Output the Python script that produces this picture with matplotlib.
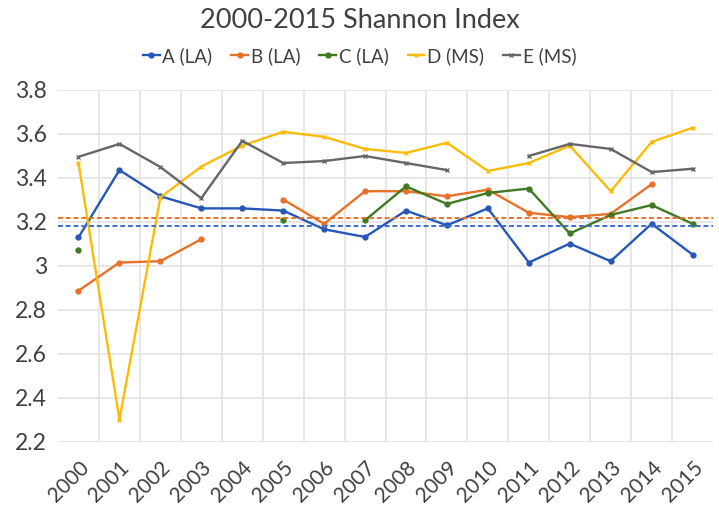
import numpy as np
import matplotlib
matplotlib.use("Agg")
import matplotlib.pyplot as plt

plt.rcParams['font.family'] = ['Lato', 'DejaVu Sans']

years = [str(y) for y in range(2000, 2016)]
nan = np.nan

# Shannon index per series (gaps where no data)
a_la = [3.128, 3.434, 3.315, 3.26, 3.26, 3.25, 3.165, 3.13, 3.25, 3.183, 3.26, 3.014, 3.10, 3.02, 3.19, 3.05]
b_la = [2.886, 3.014, 3.02, 3.12, nan, 3.30, 3.19, 3.338, 3.338, 3.315, 3.345, 3.24, 3.22, 3.235, 3.37, nan]
c_la = [3.073, nan, nan, nan, nan, 3.206, nan, 3.206, 3.36, 3.28, 3.33, 3.35, 3.146, 3.23, 3.275, 3.19]
d_ms = [3.466, 2.30, 3.31, 3.45, 3.545, 3.608, 3.585, 3.53, 3.512, 3.558, 3.43, 3.466, 3.545, 3.338, 3.562, 3.626]
e_ms = [3.494, 3.553, 3.448, 3.306, 3.567, 3.466, 3.475, 3.498, 3.466, 3.434, nan, 3.498, 3.553, 3.53, 3.425, 3.44]

mean_b = 3.218
mean_a = 3.178

series = [
    ("A (LA)", a_la, "#2557b8", "o"),
    ("B (LA)", b_la, "#e8712a", "o"),
    ("C (LA)", c_la, "#3f7a22", "o"),
    ("D (MS)", d_ms, "#fcbc05", "x"),
    ("E (MS)", e_ms, "#666666", "x"),
]

fig = plt.figure(figsize=(7.19, 5.08), dpi=100)
ax = fig.add_axes([0.0807, 0.1305, 0.9110, 0.6933])

x = np.arange(len(years))
for name, vals, col, mk in series:
    ms = 3.5 if mk == "o" else 3
    ax.plot(x, vals, color=col, lw=1.7, marker=mk, ms=ms, mew=1, label=name)

ax.axhline(mean_b, color="#e8712a", lw=1.4, ls=(0, (2.5, 1.5)))
ax.axhline(mean_a, color="#3d6ed0", lw=1.4, ls=(0, (2.5, 1.5)))

ax.set_xlim(-0.5, 15.5)
ax.set_ylim(2.2, 3.8)
ax.set_yticks(np.arange(2.2, 3.81, 0.2))
ax.set_yticklabels(["2.2", "2.4", "2.6", "2.8", "3", "3.2", "3.4", "3.6", "3.8"])
ax.set_xticks(x)
ax.set_xticklabels(years, rotation=45, ha="right", rotation_mode="anchor")

ax.grid(False)
for v in np.arange(2.2, 3.81, 0.2):
    ax.axhline(v, color="#e3e3e3", lw=1.2, zorder=0)
for v in np.arange(0.5, 15.5, 1):
    ax.axvline(v, color="#e3e3e3", lw=1.2, zorder=0)

for s in ax.spines.values():
    s.set_visible(False)
ax.tick_params(axis="both", which="both", length=0, colors="#404040")
ax.tick_params(axis="x", pad=11, labelsize=15)
ax.tick_params(axis="y", pad=8, labelsize=16.5)

fig.suptitle("2000-2015 Shannon Index", y=0.985, fontsize=19.5, color="#404040")
fig.legend(loc="center", bbox_to_anchor=(0.5, 0.89), ncol=5, frameon=False,
           fontsize=13.5, handlelength=0.9, handletextpad=0.15, columnspacing=1.0,
           labelcolor="#404040")

fig.savefig("out.png", dpi=100)
